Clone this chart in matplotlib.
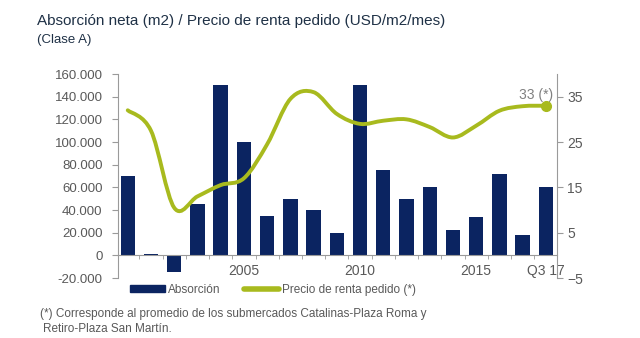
import numpy as np
import matplotlib
matplotlib.use('Agg')
import matplotlib.pyplot as plt
from matplotlib.path import Path
from matplotlib.patches import PathPatch, Patch
from matplotlib.lines import Line2D
from matplotlib.ticker import FuncFormatter

plt.rcParams['font.family'] = ['Liberation Sans', 'DejaVu Sans']

## Data
periods = ['2000', '2001', '2002', '2003', '2004', '2005', '2006', '2007', '2008',
           '2009', '2010', '2011', '2012', '2013', '2014', '2015', '2016', '2017', 'Q3 17']
absorcion = [70000, 1000, -15000, 45000, 150000, 100000, 35000, 50000, 40000,
             20000, 150000, 75000, 50000, 60000, 22000, 34000, 72000, 18000, 60000]
precio = [32, 27.5, 10.5, 13, 15.5, 17, 24.5, 34.5, 36,
          31.2, 29, 29.7, 30, 28.3, 26, 28.6, 31.9, 32.9, 33]
shown_labels = {'2005': '2005', '2010': '2010', '2015': '2015', 'Q3 17': 'Q3 17'}

NAVY = '#0b2461'
GREEN = '#a8ba1e'
GRAY = '#595959'
AX_GRAY = '#9a9a9a'

def smooth_path(x, y):
    # catmull-rom -> cubic bezier, drawn by matplotlib
    verts = [(x[0], y[0])]
    codes = [Path.MOVETO]
    n = len(x)
    for i in range(n - 1):
        x0, y0 = (x[i - 1], y[i - 1]) if i > 0 else (x[i], y[i])
        x1, y1 = x[i], y[i]
        x2, y2 = x[i + 1], y[i + 1]
        x3, y3 = (x[i + 2], y[i + 2]) if i + 2 < n else (x2, y2)
        c1 = (x1 + (x2 - x0) / 6.0, y1 + (y2 - y0) / 6.0)
        c2 = (x2 - (x3 - x1) / 6.0, y2 - (y3 - y1) / 6.0)
        verts += [c1, c2, (x2, y2)]
        codes += [Path.CURVE4] * 3
    return Path(verts, codes)

fig = plt.figure(figsize=(6.4, 3.38), dpi=100)
ax = fig.add_axes([0.184, 0.1775, 0.686, 0.6035])
x = np.arange(len(periods))

ax.bar(x, absorcion, width=0.62, color=NAVY, zorder=2)
ax.set_xlim(-0.43, 18.47)
ax.set_ylim(-20000, 160000)
ax.set_yticks(np.arange(-20000, 160001, 20000))
ax.yaxis.set_major_formatter(FuncFormatter(lambda v, p: '{:,.0f}'.format(v).replace(',', '.')))

ax.spines['top'].set_visible(False)
ax.spines['right'].set_visible(False)
ax.spines['left'].set_color(AX_GRAY)
ax.spines['bottom'].set_position(('data', 0))
ax.spines['bottom'].set_color(AX_GRAY)

ax.set_xticks(x)
ax.set_xticklabels([shown_labels.get(p, '') for p in periods])
ax.set_xticks(np.arange(0.5, len(periods) - 0.5, 1), minor=True)
ax.tick_params(axis='x', which='major', length=0, pad=6, labelsize=10, labelcolor=GRAY)
ax.tick_params(axis='x', which='minor', length=3, direction='out', color=AX_GRAY)
ax.tick_params(axis='y', length=4, pad=7, color=AX_GRAY, labelsize=9.5, labelcolor=GRAY)

ax2 = ax.twinx()
ax2.set_ylim(-5, 40)
ax2.set_yticks([-5, 5, 15, 25, 35])
for s in ['top', 'left', 'bottom']:
    ax2.spines[s].set_visible(False)
ax2.spines['right'].set_color(AX_GRAY)
ax2.tick_params(axis='y', length=4, color=AX_GRAY, labelsize=10, labelcolor=GRAY)

ax2.add_patch(PathPatch(smooth_path(x, precio), facecolor='none', edgecolor=GREEN,
                        lw=2.8, capstyle='round', zorder=3))
ax2.plot(x[-1], precio[-1], 'o', color=GREEN, ms=7, zorder=4)
ax2.annotate('33 (*)', (x[-1], precio[-1]), xytext=(5, 3), textcoords='offset points',
             ha='right', va='bottom', fontsize=10, color='#808080')

fig.text(0.058, 0.925, 'Absorción neta (m2) / Precio de renta pedido (USD/m2/mes)',
         fontsize=11, color='#1f3146')
fig.text(0.058, 0.873, '(Clase A)', fontsize=9.5, color='#1f3146')

handles = [Patch(color=NAVY), Line2D([], [], color=GREEN, lw=4, solid_capstyle='round')]
fig.legend(handles, ['Absorción', 'Precio de renta pedido (*)'], loc='center',
           bbox_to_anchor=(0.427, 0.142), ncol=2, frameon=False, fontsize=8.5,
           handlelength=2.9, handleheight=0.55, handletextpad=0.3, columnspacing=2.0,
           labelcolor=GRAY)

fig.text(0.063, 0.062, '(*) Corresponde al promedio de los submercados Catalinas-Plaza Roma y',
         fontsize=8.5, color=GRAY)
fig.text(0.067, 0.018, 'Retiro-Plaza San Martín.', fontsize=8.5, color=GRAY)

fig.savefig('out.png', dpi=100)
